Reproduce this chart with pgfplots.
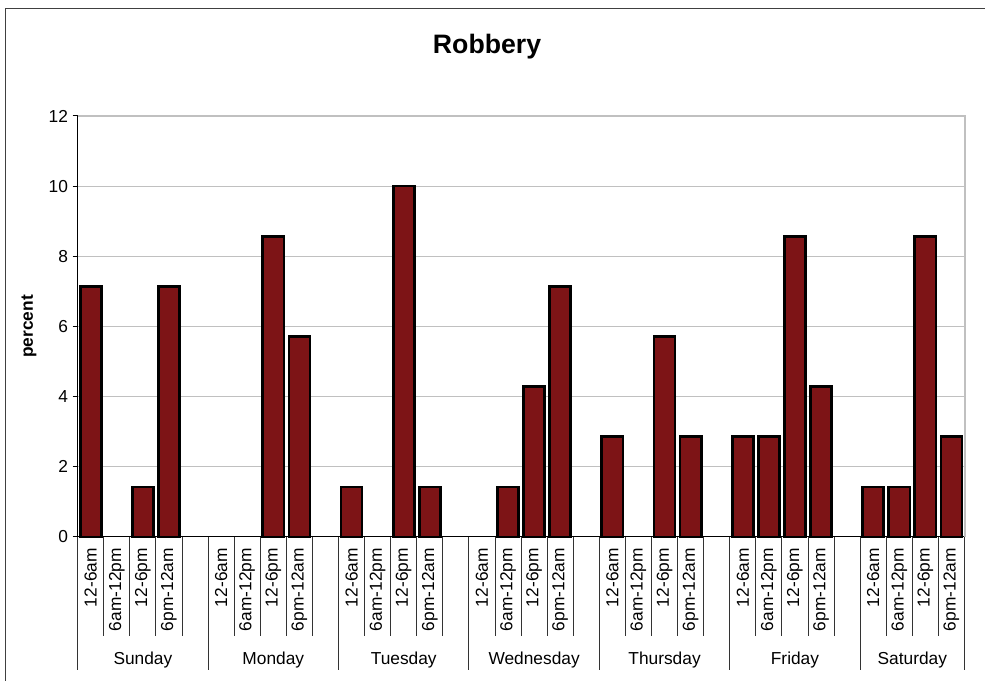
\documentclass[border=0pt]{standalone}
\usepackage{pgfplots}
\pgfplotsset{compat=1.18}
\usepackage{pgfplotstable}
\usepackage{fontspec}
\setmainfont{Liberation Sans}
\definecolor{barred}{RGB}{125,20,22}
\definecolor{gridgray}{RGB}{192,192,192}
\definecolor{framegray}{RGB}{64,64,64}

\pgfplotstableread{
x y
0.5 7.143
1.5 0
2.5 1.429
3.5 7.143
5.5 0
6.5 0
7.5 8.571
8.5 5.714
10.5 1.429
11.5 0
12.5 10
13.5 1.429
15.5 0
16.5 1.429
17.5 4.286
18.5 7.143
20.5 2.857
21.5 0
22.5 5.714
23.5 2.857
25.5 2.857
26.5 2.857
27.5 8.571
28.5 4.286
30.5 1.429
31.5 1.429
32.5 8.571
33.5 2.857
}\robbery

\begin{document}
\begin{tikzpicture}
\useasboundingbox (-58.275pt,-108pt) rectangle (680.475pt,402.75pt);
\fill[white] (-58.275pt,-108pt) rectangle (680.475pt,402.75pt);
\draw[framegray, line width=0.75pt] (-54.15pt,-130pt) |- (720pt,396pt);
\begin{axis}[
  at={(0,0)}, anchor=south west,
  scale only axis, width=665.1pt, height=315.75pt,
  xmin=0, xmax=34, ymin=0, ymax=12,
  axis x line*=bottom, axis y line*=left,
  axis line style={black, line width=0.75pt},
  xtick=\empty,
  ytick={0,2,...,12},
  tick align=outside,
  major tick length=3.75pt,
  ytick style={black, line width=0.75pt},
  ymajorgrids,
  grid style={gridgray, line width=0.75pt},
  yticklabel style={font=\fontsize{13}{15}\selectfont},
  /pgf/number format/assume math mode=true,
  clip=false,
  ybar, bar width=0.81,
  restrict y to domain=0.01:20,
  unbounded coords=discard,
]
\addplot[fill=barred, draw=black, line width=2pt] table[x=x,y=y]{\robbery};
\draw[gridgray, line width=1.5pt] (rel axis cs:0,1) -- (rel axis cs:1,1) -- (rel axis cs:1,0);
\end{axis}
% category labels
\foreach \d in {0,...,6}{
  \foreach \t [count=\j from 0] in {12-6am,6am-12pm,12-6pm,6pm-12am}{
    \node[rotate=90, anchor=east, inner sep=0pt, font=\fontsize{13}{15}\selectfont]
      at ({(\d*5+\j+0.5)*19.5618pt}, -8.25pt) {\t};
  }
}
\foreach \n [count=\d from 0] in {Sunday,Monday,Tuesday,Wednesday,Thursday,Friday}{
  \node[font=\fontsize{13}{15}\selectfont] at ({(\d*5+2.5)*19.5618pt}, -92.25pt) {\n};
}
\node[font=\fontsize{13}{15}\selectfont] at ({32*19.5618pt}, -92.25pt) {Saturday};
\foreach \k in {1,...,33}{
  \draw[black!80, line width=0.75pt] ({\k*19.5618pt},0) -- ++(0,-74.25pt);
}
\foreach \k in {0,5,10,15,20,25,30,34}{
  \draw[black!80, line width=0.75pt] ({\k*19.5618pt},0) -- ++(0,-99.75pt);
}
\node[rotate=90, font=\fontsize{13}{15}\selectfont\bfseries] at (-36.5pt,157.9pt) {percent};
\node[font=\fontsize{20}{24}\selectfont\bfseries] at (307pt,368pt) {Robbery};
\end{tikzpicture}
\end{document}
